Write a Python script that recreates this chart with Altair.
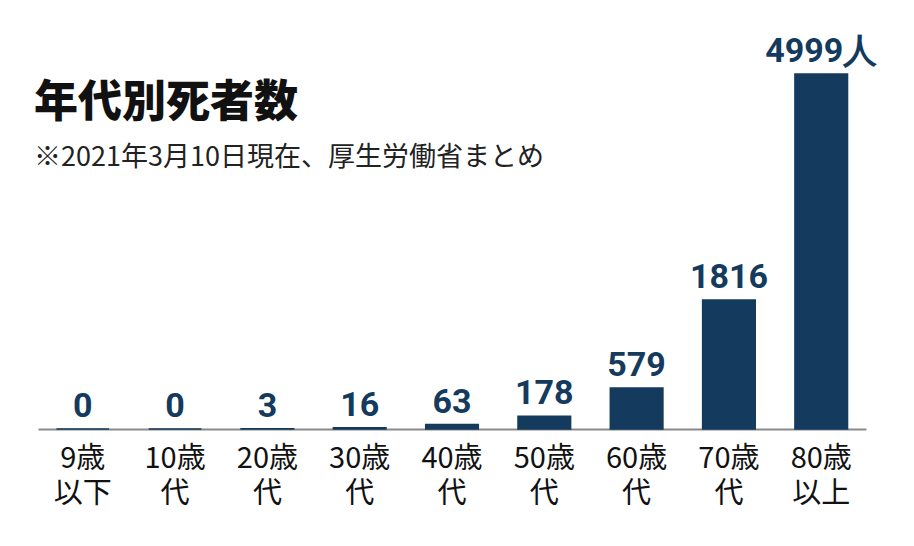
import altair as alt
import pandas as pd

# data
ages = ["9歳\n以下", "10歳\n代", "20歳\n代", "30歳\n代", "40歳\n代",
        "50歳\n代", "60歳\n代", "70歳\n代", "80歳\n以上"]
deaths = [0, 0, 3, 16, 63, 178, 579, 1816, 4999]
value_labels = ["0", "0", "3", "16", "63", "178", "579", "1816", "4999人"]

title = "年代別死者数"
subtitle = "※2021年3月10日現在、厚生労働省まとめ"

navy = "#143b5d"

df = pd.DataFrame({"age": ages, "deaths": deaths, "label": value_labels})

x_enc = alt.X("age:N", sort=None, title=None,
              scale=alt.Scale(paddingInner=0.43, paddingOuter=0.2),
              axis=alt.Axis(labelExpr="split(datum.label, '\\n')", labelAngle=0,
                            labelFont="Noto Sans CJK JP", labelFontSize=29,
                            labelColor="#111111", labelLineHeight=35,
                            labelPadding=15, ticks=False,
                            domainColor="#8a8a8a", domainWidth=2))
y_enc = alt.Y("deaths:Q", axis=None, scale=alt.Scale(domain=[0, 5928], nice=False))

bars = alt.Chart(df).mark_bar(color=navy, stroke=navy, strokeWidth=1.5).encode(
    x=x_enc, y=y_enc
)

labels = alt.Chart(df).mark_text(
    font="Roboto", fontWeight="bold", fontSize=34, color=navy,
    baseline="alphabetic", dy=-12
).encode(x=x_enc, y=y_enc, text="label:N")

head = alt.Chart(pd.DataFrame({"t": [title]})).mark_text(
    font="Noto Sans CJK JP", fontWeight=900, fontSize=44, color="#111111",
    align="left", baseline="alphabetic"
).encode(x=alt.value(-4), y=alt.value(109), text="t:N")

sub = alt.Chart(pd.DataFrame({"t": [subtitle]})).mark_text(
    font="Noto Sans CJK JP", fontSize=27, color="#222222",
    align="left", baseline="alphabetic"
).encode(x=alt.value(-4), y=alt.value(158), text="t:N")

chart = alt.layer(bars, labels, head, sub).properties(
    width=828, height=421,
    autosize=alt.AutoSizeParams(type="none"),
    padding={"left": 30, "top": 0, "right": 40, "bottom": 108},
    background="white"
).configure_view(stroke=None)

chart.save("out.html", embed_options={"renderer": "svg", "actions": False})
